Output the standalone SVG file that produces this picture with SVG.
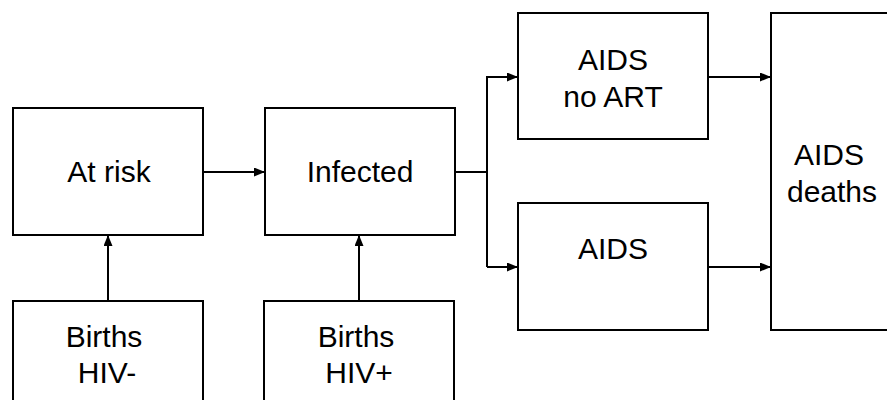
<svg xmlns="http://www.w3.org/2000/svg" width="887" height="400" viewBox="0 0 887 400">
<defs>
<style>
.box{fill:#fff;stroke:#000;stroke-width:2}
.lbl{font-family:"Liberation Sans",Arial,sans-serif;font-size:30px;fill:#000;text-anchor:middle}
.con{fill:none;stroke:#000;stroke-width:2}
</style>
<marker id="ah" viewBox="0 0 11 9" refX="11" refY="4.5" markerWidth="11" markerHeight="9" markerUnits="userSpaceOnUse" orient="auto">
<path d="M0,0 L11,4.5 L0,9 Z" fill="#000"/>
</marker>
</defs>
<rect width="887" height="400" fill="#fff"/>
<g id="atrisk"><rect class="box" x="13" y="108" width="190" height="127"/><text class="lbl" x="109" y="182">At risk</text></g>
<g id="infected"><rect class="box" x="265" y="108" width="190" height="127"/><text class="lbl" x="360" y="182">Infected</text></g>
<g id="birthsneg"><rect class="box" x="13" y="301" width="190" height="110"/><text class="lbl" x="104" y="347">Births</text><text class="lbl" x="107" y="383">HIV-</text></g>
<g id="birthspos"><rect class="box" x="264" y="301" width="190" height="110"/><text class="lbl" x="356" y="347">Births</text><text class="lbl" x="359" y="383">HIV+</text></g>
<g id="aidsnoart"><rect class="box" x="518" y="13" width="190" height="126"/><text class="lbl" x="613" y="70">AIDS</text><text class="lbl" x="613" y="107">no ART</text></g>
<g id="aids"><rect class="box" x="518" y="203" width="190" height="127"/><text class="lbl" x="613" y="259">AIDS</text></g>
<g id="deaths"><rect class="box" x="771" y="13" width="130" height="317"/><text class="lbl" x="829" y="165">AIDS</text><text class="lbl" x="832" y="202">deaths</text></g>
<g id="connectors">
<path class="con" d="M203,172 H265" marker-end="url(#ah)"/>
<path class="con" d="M108,301 V235" marker-end="url(#ah)"/>
<path class="con" d="M359,301 V235" marker-end="url(#ah)"/>
<path class="con" d="M455,172 H487"/>
<path class="con" d="M487,267 V77 H518" marker-end="url(#ah)"/>
<path class="con" d="M487,267 H518" marker-end="url(#ah)"/>
<path class="con" d="M708,77 H771" marker-end="url(#ah)"/>
<path class="con" d="M708,267 H771" marker-end="url(#ah)"/>
</g>
</svg>
